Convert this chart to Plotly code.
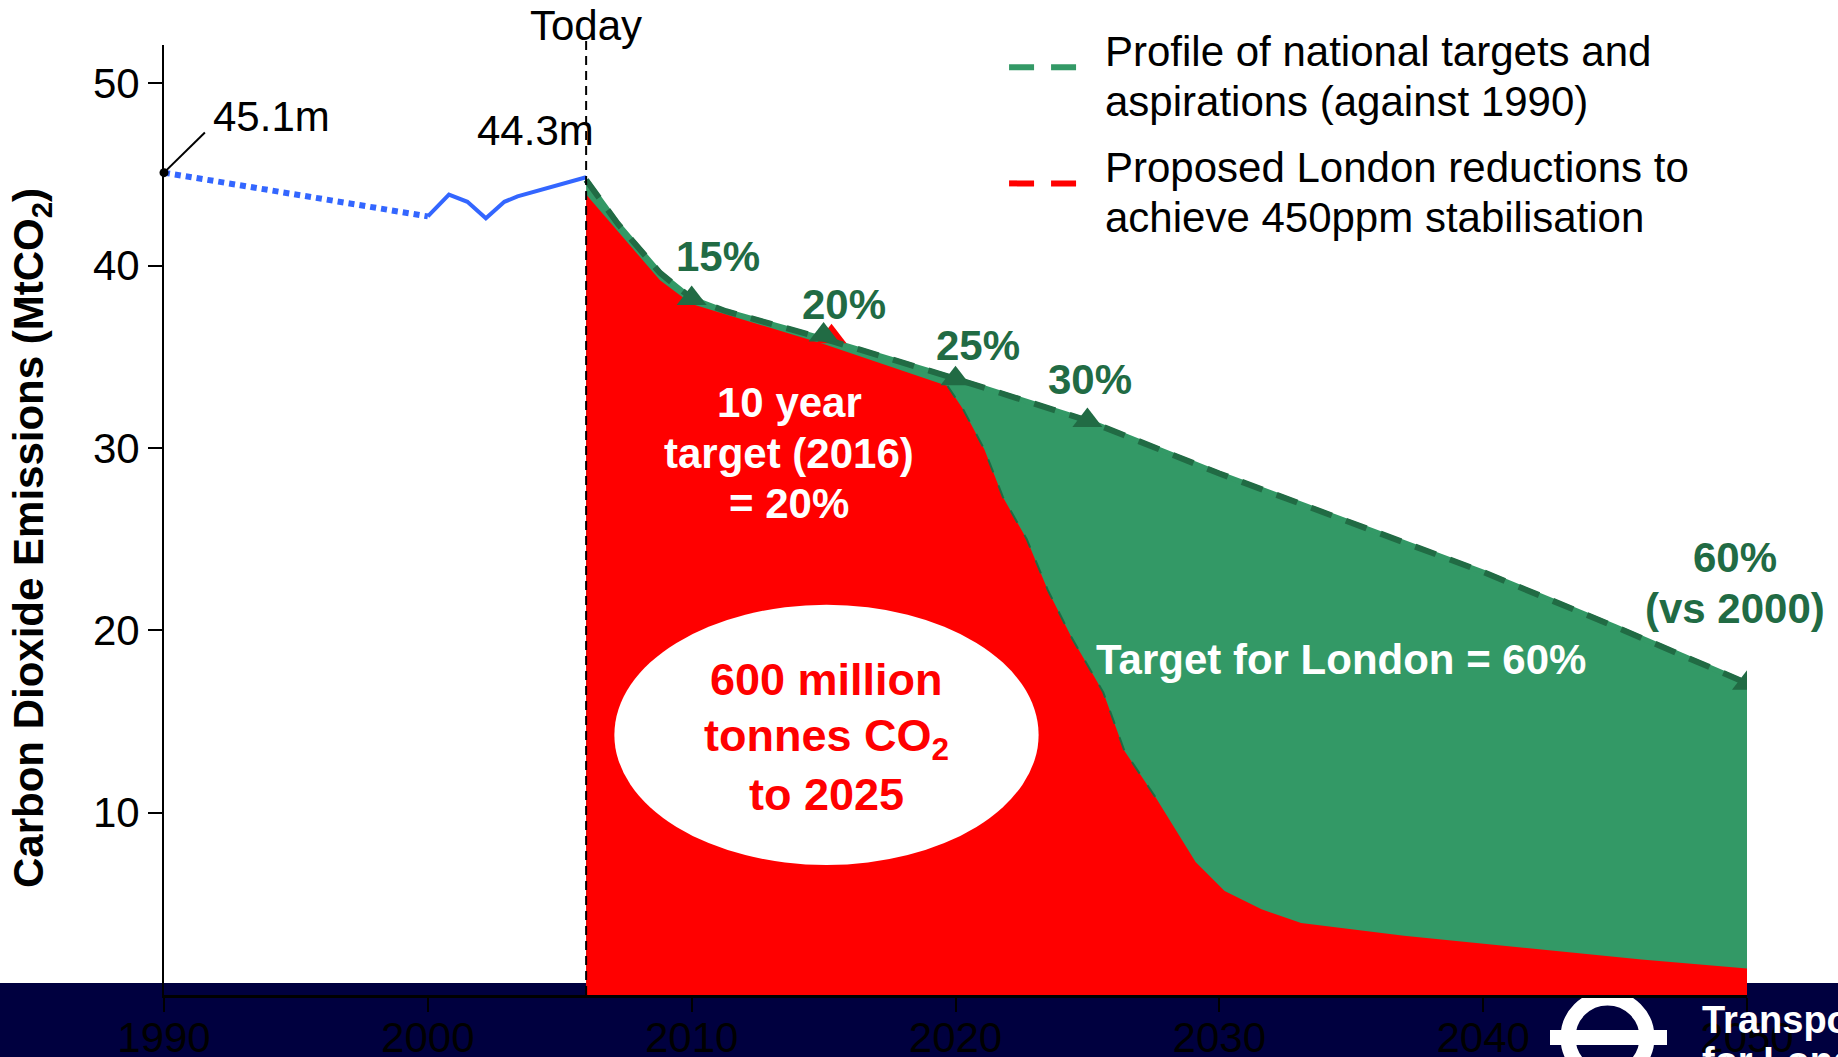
import plotly.graph_objects as go

# ---------------- data ----------------
hist_dotted_years = [1990, 2000]
hist_dotted_vals = [45.1, 42.7]

hist_years = [2000, 2000.8, 2001.5, 2002.2, 2002.9, 2003.4, 2006]
hist_vals = [42.7, 43.9, 43.5, 42.6, 43.5, 43.8, 44.85]

national_years = [2006, 2007.2, 2008.8, 2010, 2011.3, 2015, 2020, 2025, 2030, 2035, 2040, 2045, 2050]
national_vals = [44.7, 42.3, 39.6, 38.2, 37.5, 36.0, 33.8, 31.5, 28.6, 25.9, 23.2, 20.2, 17.1]

milestone_years = [2010, 2015, 2020, 2025, 2050]
milestone_vals = [38.2, 36.2, 33.8, 31.5, 17.1]
milestone_labels = ["15%", "20%", "25%", "30%", "60%"]

london_years = [2006, 2007.2, 2008.8, 2010, 2015, 2019.7, 2020.3, 2021.1, 2021.8, 2022.7, 2023.5,
                2024.4, 2025.6, 2026.4, 2027.6, 2029.1, 2030.2, 2031.6, 2033.1, 2037, 2041.6, 2046, 2050]
london_vals = [43.9, 41.9, 39.2, 37.9, 35.7, 33.4, 32.1, 29.9, 27.3, 25.0, 22.2,
               19.6, 16.6, 13.4, 10.8, 7.3, 5.7, 4.7, 3.95, 3.25, 2.6, 1.95, 1.45]

london_target_year = [2015.3]
london_target_val = [36.1]

x_ticks = [1990, 2000, 2010, 2020, 2030, 2040, 2050]
y_ticks = [10, 20, 30, 40, 50]

# ---------------- style ----------------
FONT = "Liberation Sans, Arial, sans-serif"
GREEN = "#339966"
DKGREEN = "#216B44"
RED = "#FF0000"
BLUE = "#3366FF"
NAVY = "#00003F"

fig = go.Figure()

# green filled area (national profile)
fig.add_trace(go.Scatter(x=national_years, y=national_vals, fill="tozeroy", fillcolor=GREEN,
                         mode="lines", line=dict(color=GREEN, width=5), showlegend=False,
                         hoverinfo="skip"))
# red filled area (London reductions)
fig.add_trace(go.Scatter(x=london_years, y=london_vals, fill="tozeroy", fillcolor=RED,
                         mode="lines", line=dict(color=RED, width=0), showlegend=False,
                         hoverinfo="skip"))
# dashed edge of red area on the steep part
fig.add_trace(go.Scatter(x=london_years[5:15], y=london_vals[5:15], mode="lines",
                         line=dict(color=DKGREEN, width=2, dash="14px,14px"), showlegend=False,
                         hoverinfo="skip"))
# red target marker
fig.add_trace(go.Scatter(x=london_target_year, y=london_target_val, mode="markers",
                         marker=dict(symbol="triangle-up", size=26, color=RED), showlegend=False))
# national dashed line
fig.add_trace(go.Scatter(x=national_years, y=national_vals, mode="lines",
                         line=dict(color=DKGREEN, width=6, dash="22px,15px"), showlegend=False))
# milestone markers
fig.add_trace(go.Scatter(x=milestone_years, y=milestone_vals, mode="markers",
                         marker=dict(symbol="triangle-up", size=26, color=DKGREEN), showlegend=False))
# historic emissions
fig.add_trace(go.Scatter(x=hist_dotted_years, y=hist_dotted_vals, mode="lines",
                         line=dict(color=BLUE, width=6, dash="6px,5px"), showlegend=False))
fig.add_trace(go.Scatter(x=hist_years, y=hist_vals, mode="lines",
                         line=dict(color=BLUE, width=4), showlegend=False))
fig.add_trace(go.Scatter(x=hist_dotted_years[:1], y=hist_dotted_vals[:1], mode="markers",
                         marker=dict(color="black", size=9), showlegend=False, cliponaxis=False))

# ---------------- shapes ----------------
W, H = 1838, 1057
L, R, T, B = 164, 91, 45, 62
PW, PH = W - L - R, H - T - B


def px(xp):
    return (xp - L) / PW


def py(yp):
    return (H - B - yp) / PH


shapes = [
    # navy footer band
    dict(type="rect", xref="paper", yref="paper", x0=px(0), x1=px(W), y0=py(H + 2), y1=py(983),
         fillcolor=NAVY, line=dict(width=0), layer="below"),
    # TfL roundel
    dict(type="circle", xref="paper", yref="paper", x0=px(1568), x1=px(1647), y0=py(1077), y1=py(998),
         line=dict(color="white", width=15), fillcolor="rgba(0,0,0,0)", layer="below"),
    dict(type="rect", xref="paper", yref="paper", x0=px(1550), x1=px(1667), y0=py(1045), y1=py(1030),
         fillcolor="white", line=dict(width=0), layer="below"),
    # Today line
    dict(type="line", xref="x", yref="paper", x0=2006, x1=2006, y0=0, y1=py(38),
         line=dict(color="black", width=2, dash="9px,6px")),
    # 45.1m leader line
    dict(type="line", xref="x", yref="y", x0=1990, x1=1991.55, y0=45.1, y1=47.3,
         line=dict(color="black", width=2)),
    # ellipse
    dict(type="circle", xref="x", yref="y", x0=2007.07, x1=2023.15, y0=7.13, y1=21.4,
         fillcolor="white", line=dict(width=0)),
    # legend dashes
    dict(type="line", xref="x", yref="y", x0=2022.03, x1=2024.61, y0=50.88, y1=50.88,
         line=dict(color=GREEN, width=6, dash="25px,17px")),
    dict(type="line", xref="x", yref="y", x0=2022.03, x1=2024.61, y0=44.51, y1=44.51,
         line=dict(color=RED, width=6, dash="25px,17px")),
]

ann = []


def add(text, x, y, size=42, color="black", bold=False, xanchor="center", xref="x", yref="y", **kw):
    if bold:
        text = "<b>" + text + "</b>"
    ann.append(dict(text=text, x=x, y=y, xref=xref, yref=yref, showarrow=False,
                    xanchor=xanchor, yanchor="middle",
                    font=dict(family=FONT, size=size, color=color), **kw))


add("Today", 2006, py(26), xref="x", yref="paper")
add("45.1m", 1991.78, 48.16, xanchor="left")
add("44.3m", 2004.08, 47.4)
add("15%", 2010.98, 40.5, color=DKGREEN, bold=True)
add("20%", 2015.78, 37.86, color=DKGREEN, bold=True)
add("25%", 2020.84, 35.61, color=DKGREEN, bold=True)
add("30%", 2025.1, 33.75, color=DKGREEN, bold=True)
add("60%", 2049.55, 23.97, color=DKGREEN, bold=True)
add("(vs 2000)", 2049.55, 21.2, color=DKGREEN, bold=True)
add("10 year", 2013.69, 32.47, color="white", bold=True)
add("target (2016)", 2013.69, 29.7, color="white", bold=True)
add("= 20%", 2013.69, 26.93, color="white", bold=True)
add("Target for London = 60%", 2034.62, 18.38, color="white", bold=True)
add("600 million", 2015.11, 17.28, size=45, color=RED, bold=True)
add("tonnes CO<sub>2</sub>", 2015.11, 14.07, size=45, color=RED, bold=True)
add("to 2025", 2015.11, 10.99, size=45, color=RED, bold=True)
add("Profile of national targets and", 2025.6, 51.75, xanchor="left")
add("aspirations (against 1990)", 2025.6, 48.98, xanchor="left")
add("Proposed London reductions to", 2025.6, 45.39, xanchor="left")
add("achieve 450ppm stabilisation", 2025.6, 42.62, xanchor="left")
add("Carbon Dioxide Emissions (MtCO<sub>2</sub>)", px(31), py(538), bold=True,
    xref="paper", yref="paper", textangle=-90)
add("Transport", px(1700), py(1020), size=38, color="white", bold=True, xanchor="left",
    xref="paper", yref="paper")
add("for London", px(1700), py(1061), size=38, color="white", bold=True, xanchor="left",
    xref="paper", yref="paper")

fig.update_layout(
    width=W, height=H, autosize=False,
    margin=dict(l=L, r=R, t=T, b=B, pad=0, autoexpand=False),
    paper_bgcolor="white", plot_bgcolor="rgba(0,0,0,0)",
    font=dict(family=FONT, size=42, color="black"),
    showlegend=False,
    shapes=shapes,
    annotations=ann,
    xaxis=dict(range=[1990, 2050], tickvals=x_ticks, ticktext=[str(v) for v in x_ticks],
               showline=True, linecolor="black", linewidth=3, ticks="outside", ticklen=14,
               tickwidth=2, tickcolor="black", showgrid=False, zeroline=False,
               tickfont=dict(family=FONT, size=42, color="black"), ticklabelstandoff=-10,
               fixedrange=True, automargin=False),
    yaxis=dict(range=[0, 52.1], tickvals=y_ticks, ticktext=[str(v) for v in y_ticks],
               showline=True, linecolor="black", linewidth=2, ticks="outside", ticklen=14,
               tickwidth=2, tickcolor="black", showgrid=False, zeroline=False,
               tickfont=dict(family=FONT, size=42, color="black"), fixedrange=True,
               automargin=False),
)

fig.write_html(
    "out.html",
    config={"displayModeBar": False},
    post_script="document.body.style.margin='0';document.body.style.overflow='hidden';",
)
